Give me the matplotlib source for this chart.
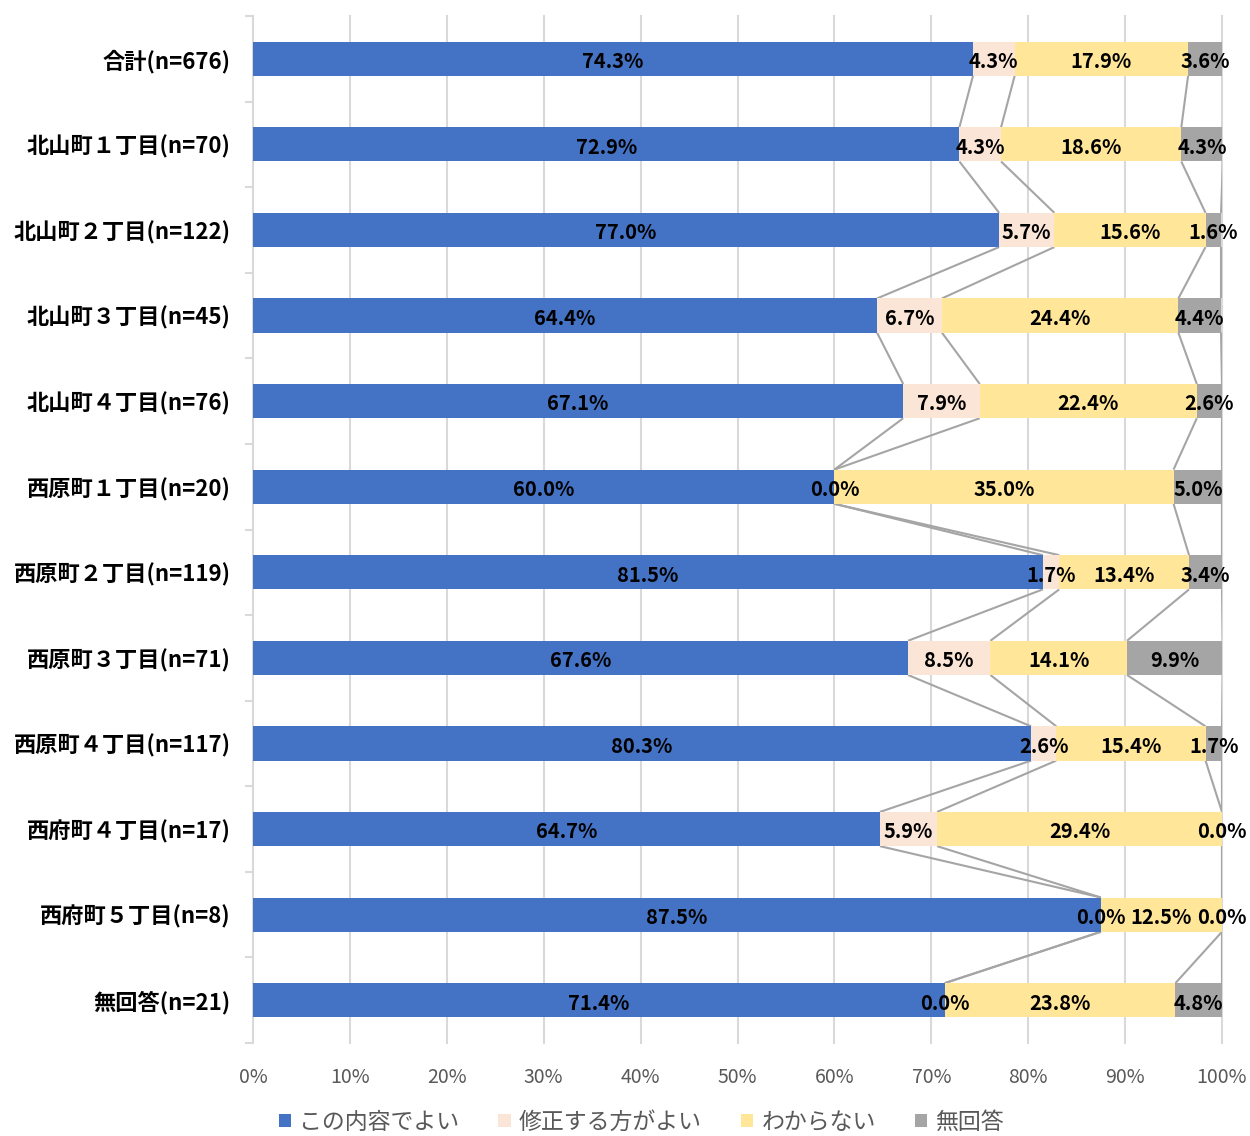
import matplotlib
matplotlib.use("Agg")
import matplotlib.pyplot as plt
import numpy as np
from matplotlib.patches import Patch

plt.rcParams['font.family'] = ['Noto Sans CJK JP', 'DejaVu Sans']

categories = ["合計(n=676)", "北山町１丁目(n=70)", "北山町２丁目(n=122)", "北山町３丁目(n=45)",
              "北山町４丁目(n=76)", "西原町１丁目(n=20)", "西原町２丁目(n=119)", "西原町３丁目(n=71)",
              "西原町４丁目(n=117)", "西府町４丁目(n=17)", "西府町５丁目(n=8)", "無回答(n=21)"]
series_names = ["この内容でよい", "修正する方がよい", "わからない", "無回答"]
kono = [74.3, 72.9, 77.0, 64.4, 67.1, 60.0, 81.5, 67.6, 80.3, 64.7, 87.5, 71.4]
shusei = [4.3, 4.3, 5.7, 6.7, 7.9, 0.0, 1.7, 8.5, 2.6, 5.9, 0.0, 0.0]
wakaranai = [17.9, 18.6, 15.6, 24.4, 22.4, 35.0, 13.4, 14.1, 15.4, 29.4, 12.5, 23.8]
mukaito = [3.6, 4.3, 1.6, 4.4, 2.6, 5.0, 3.4, 9.9, 1.7, 0.0, 0.0, 4.8]
xticks = [0, 10, 20, 30, 40, 50, 60, 70, 80, 90, 100]
colors = ["#4472C4", "#FBE5D6", "#FFE699", "#A5A5A5"]

data = np.array([kono, shusei, wakaranai, mukaito]) / 100.0
n = len(categories)
y = np.arange(n)
bar_h = 0.4

fig = plt.figure(figsize=(12.5, 11.36), dpi=100)
ax = fig.add_axes([253/1250, 1 - 1043/1136, (1222-253)/1250, (1043-16)/1136])

# gridlines
for t in xticks:
    ax.axvline(t/100.0, color="#D9D9D9", lw=1.5, zorder=0, clip_on=False)

left = np.zeros(n)
cums = []
for k in range(4):
    ax.barh(y, data[k], left=left, height=bar_h, color=colors[k], zorder=2)
    for i in range(n):
        ax.text(left[i] + data[k][i]/2, y[i] + 0.01, f"{data[k][i]*100:.1f}%", ha="center", va="center_baseline",
                fontsize=14.5, fontweight="bold", color="black", zorder=4)
    left = left + data[k]
    cums.append(left.copy())

# series lines
for k in range(4):
    c = cums[k]
    for i in range(n-1):
        ax.plot([c[i], c[i+1]], [y[i] + bar_h/2, y[i+1] - bar_h/2], color="#A5A5A5", lw=1.5, zorder=1,
                solid_capstyle="butt")

ax.set_xlim(0, 1)
ax.set_ylim(n - 0.5, -0.5)
for s in ax.spines.values():
    s.set_visible(False)

ax.set_xticks(np.array(xticks)/100.0)
ax.set_xticklabels([f"{t}%" for t in xticks], fontsize=14, color="#595959")
ax.tick_params(axis="x", length=0, pad=17)

ax.set_yticks(y)
ax.set_yticklabels(categories, fontsize=16, fontweight="bold", color="black")
ax.set_yticks(np.arange(-0.5, n, 1.0), minor=True)
ax.tick_params(axis="y", which="major", length=0, pad=16)
ax.tick_params(axis="y", which="minor", length=6, width=1.5, color="#D9D9D9", direction="out")

handles = [Patch(facecolor=c, edgecolor="none") for c in colors]
leg = fig.legend(handles, series_names, loc="lower center", bbox_to_anchor=(0.513, -0.016), ncol=4,
                 frameon=False, fontsize=16.5, handlelength=0.55, handleheight=0.55, handletextpad=0.35,
                 columnspacing=1.7, labelcolor="#595959")

fig.savefig("out.png", dpi=100)
